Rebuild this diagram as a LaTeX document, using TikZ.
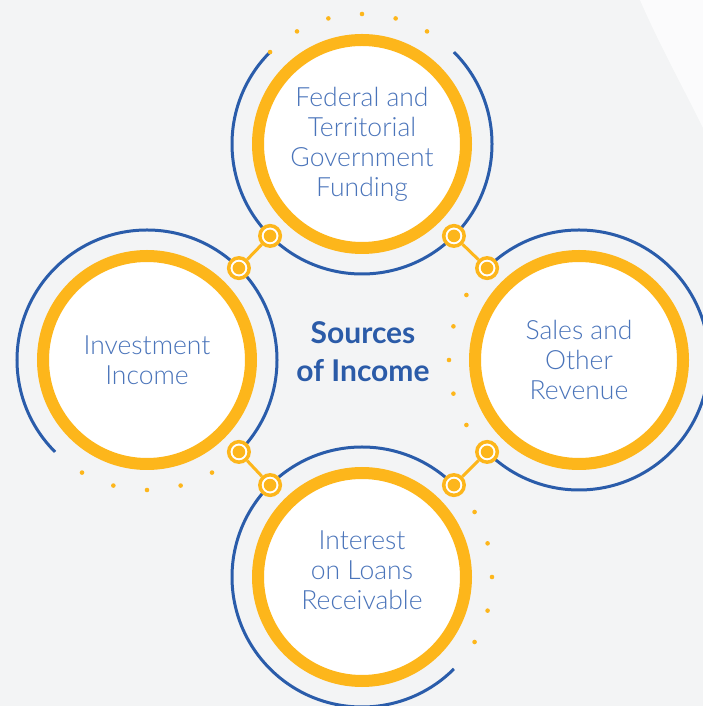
\documentclass[tikz,border=0pt]{standalone}
\usepackage{fontspec}
\setmainfont{Lato}
\newfontfamily\lightfont{Lato Light}
\usetikzlibrary{calc}
\definecolor{bgc}{RGB}{243,244,245}
\definecolor{ylw}{RGB}{253,182,27}
\definecolor{arcblue}{RGB}{42,92,170}
\definecolor{txtblue}{RGB}{74,116,186}
\definecolor{ttlblue}{RGB}{43,91,168}
\tikzset{
  mainc/.style={circle, minimum size=208pt, inner sep=0pt, draw=ylw, line width=12pt, fill=white,
    align=center, text=txtblue, font=\lightfont\fontsize{26.5pt}{30pt}\selectfont},
  bluearc/.style={draw=arcblue, line width=3pt},
  conn/.style={circle, minimum size=20.5pt, inner sep=0pt, draw=ylw, line width=3.5pt, fill=white,
    path picture={\fill[ylw] (path picture bounding box.center) circle (6.3pt);}},
  connline/.style={draw=ylw, line width=3pt},
  dotc/.style={fill=ylw},
  title/.style={align=center, text=ttlblue, font=\bfseries\fontsize{30pt}{38pt}\selectfont}
}
\begin{document}
\begin{tikzpicture}[x=1pt,y=1pt]
\useasboundingbox (0,0) rectangle (703,706);
\fill[bgc] (0,0) rectangle (703,706);
\fill[white, opacity=0.7] (640,706) .. controls (660,660) and (685,615) .. (703,578) -- (703,706) -- cycle;
% centres
\coordinate (cT) at (362,562);
\coordinate (cL) at (147,346);
\coordinate (cR) at (579,346);
\coordinate (cB) at (362,129);
% blue arcs
\draw[bluearc] ($(cT)+(135:130)$) arc[start angle=135, end angle=405, radius=130pt];
\draw[bluearc] ($(cL)+(-45:130)$) arc[start angle=-45, end angle=225, radius=130pt];
\draw[bluearc] ($(cR)+(-135:130)$) arc[start angle=-135, end angle=135, radius=130pt];
\draw[bluearc] ($(cB)+(45:130)$) arc[start angle=45, end angle=315, radius=130pt];
% main circles
\node[mainc] (T) at (cT) {Federal and\\Territorial\\Government\\Funding};
\node[mainc] (L) at (cL) {Investment\\Income};
\node[mainc] (R) at (cR) {Sales and\\Other\\Revenue};
\node[mainc] (B) at (cB) {Interest\\on Loans\\Receivable\\[-16pt]\mbox{}};
% connectors
\node[conn] (tl1) at ($(cT)+(225:130)$) {};
\node[conn] (tl2) at ($(cL)+(45:130)$) {};
\node[conn] (tr1) at ($(cT)+(315:130)$) {};
\node[conn] (tr2) at ($(cR)+(135:130)$) {};
\node[conn] (bl1) at ($(cL)+(315:130)$) {};
\node[conn] (bl2) at ($(cB)+(135:130)$) {};
\node[conn] (br1) at ($(cR)+(225:130)$) {};
\node[conn] (br2) at ($(cB)+(45:130)$) {};
\draw[connline] (tl1) -- (tl2);
\draw[connline] (tr1) -- (tr2);
\draw[connline] (bl1) -- (bl2);
\draw[connline] (br1) -- (br2);
% dots
\foreach \a in {60,75,...,135} \fill[dotc] ($(cT)+(\a:130)$) circle (2.3pt);
\foreach \a in {240,255,...,300} \fill[dotc] ($(cL)+(\a:130)$) circle (2.3pt);
\foreach \a in {150,165,...,210} \fill[dotc] ($(cR)+(\a:130)$) circle (2.3pt);
\foreach \a in {-30,-15,...,30} \fill[dotc] ($(cB)+(\a:130)$) circle (2.3pt);
% title
\node[title] (ttl) at (363,354) {Sources\\of Income};
\end{tikzpicture}
\end{document}
